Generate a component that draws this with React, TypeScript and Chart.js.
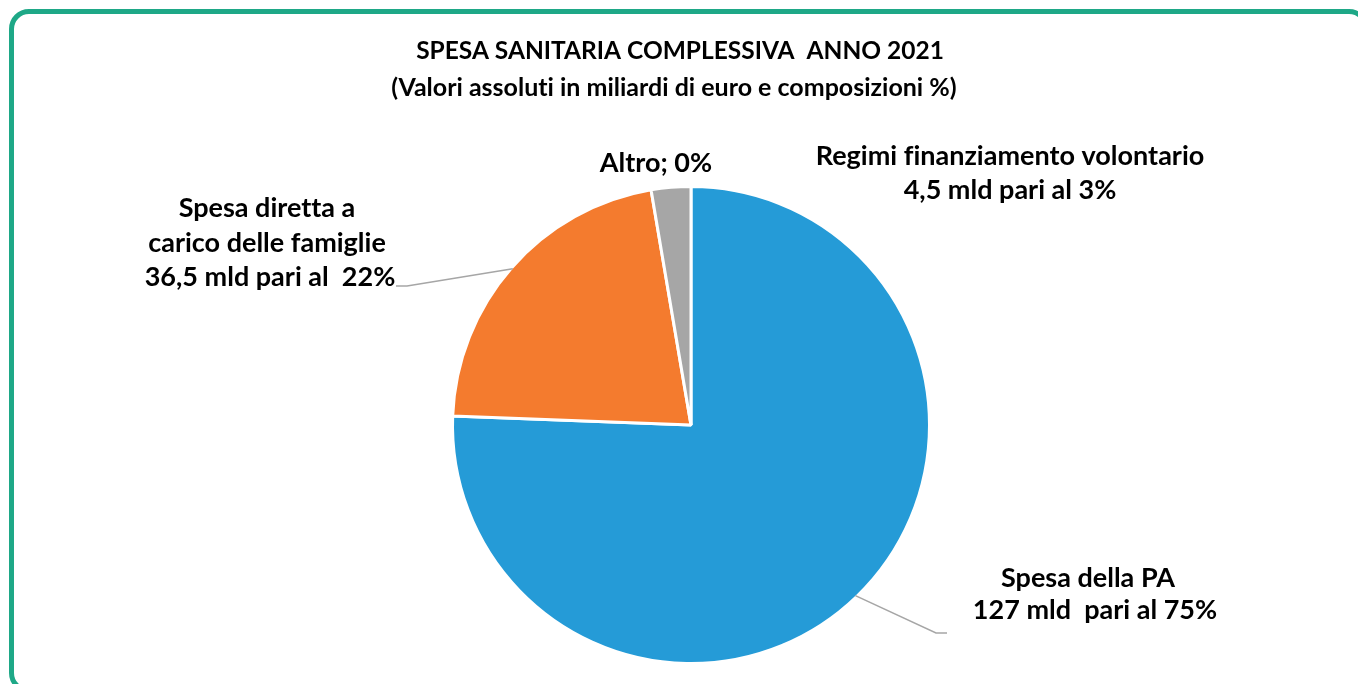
import React, { useEffect, useRef } from "react";
import { Chart, registerables } from "chart.js";

Chart.register(...registerables);

const categories = [
  "Spesa della PA",
  "Spesa diretta a carico delle famiglie",
  "Regimi finanziamento volontario",
  "Altro",
];
const values = [127, 36.5, 4.5, 0];
const colors = ["#259BD7", "#F47B2E", "#A6A6A6", "#FFC000"];
const titleLines = [
  "SPESA SANITARIA COMPLESSIVA  ANNO 2021",
  "(Valori assoluti in miliardi di euro e composizioni %)",
];
const labelLines = [
  ["Spesa della PA", "127 mld  pari al 75%"],
  ["Spesa diretta a", "carico delle famiglie", "36,5 mld pari al  22%"],
  ["Regimi finanziamento volontario", "4,5 mld pari al 3%"],
  ["Altro; 0%"],
];

const FONT = "Lato, 'Open Sans', sans-serif";

// label placement (pixel offsets from the pie centre)
const placements = [
  { xs: [397, 404], ys: [153, 185], leader: { elbow: [245, 208], end: [256, 208] } },
  { xs: [-424, -424, -421], ys: [-217, -182, -148], leader: { elbow: [-284, -139], end: [-295, -139] } },
  { xs: [319, 319], ys: [-269, -235], leader: null },
  { xs: [-35], ys: [-262], leader: null },
];

const labelPlugin = {
  id: "sliceLabels",
  afterDatasetsDraw(chart: any, _args: any, opts: any) {
    const ctx = chart.ctx;
    const meta = chart.getDatasetMeta(0);
    ctx.save();
    try {
      (ctx as any).textRendering = "optimizeSpeed";
    } catch (e) {
      /* ignore */
    }
    meta.data.forEach((arc: any, i: number) => {
      const p = arc.getProps(["x", "y", "startAngle", "endAngle", "outerRadius"], true);
      const pl = opts.placements[i];
      if (!pl) return;
      if (pl.leader) {
        const a = (p.startAngle + p.endAngle) / 2;
        const r = p.outerRadius - 1.5;
        ctx.beginPath();
        ctx.moveTo(p.x + r * Math.cos(a), p.y + r * Math.sin(a));
        ctx.lineTo(p.x + pl.leader.elbow[0], p.y + pl.leader.elbow[1]);
        ctx.lineTo(p.x + pl.leader.end[0], p.y + pl.leader.end[1]);
        ctx.strokeStyle = "#A6A6A6";
        ctx.lineWidth = 1.5;
        ctx.stroke();
      }
      ctx.fillStyle = "#000000";
      ctx.font = `bold ${opts.fontSize}px ${FONT}`;
      ctx.textAlign = "center";
      ctx.textBaseline = "middle";
      opts.lines[i].forEach((t: string, j: number) => {
        ctx.fillText(t, p.x + pl.xs[j], p.y + pl.ys[j]);
      });
    });
    // title
    ctx.fillStyle = "#000000";
    ctx.textAlign = "center";
    ctx.textBaseline = "middle";
    const cx = chart.width / 2;
    ctx.font = `bold ${opts.titleSize}px ${FONT}`;
    ctx.fillText(opts.title[0], cx + 1, 51.5);
    ctx.font = `bold ${opts.titleSize + 0.5}px ${FONT}`;
    ctx.fillText(opts.title[1], cx - 5, 88);
    ctx.restore();
  },
};

export default function App() {
  const ref = useRef<HTMLCanvasElement | null>(null);
  useEffect(() => {
    if (!ref.current) return;
    const chart = new Chart(ref.current, {
      type: "pie",
      data: {
        labels: categories,
        datasets: [
          {
            data: values,
            backgroundColor: colors,
            borderColor: "#FFFFFF",
            borderWidth: 3,
            hoverBorderWidth: 3,
            hoverOffset: 0,
          },
        ],
      },
      options: {
        responsive: false,
        animation: false,
        events: [],
        layout: { padding: { top: 185, bottom: 19, left: 24, right: 0 } },
        plugins: {
          legend: { display: false },
          title: { display: false },
          tooltip: { enabled: false },
          sliceLabels: {
            placements,
            lines: labelLines,
            title: titleLines,
            fontSize: 27,
            titleSize: 24.5,
          },
        } as any,
      },
      plugins: [labelPlugin],
    });
    return () => chart.destroy();
  }, []);

  return (
    <div
      style={{
        position: "fixed",
        left: 0,
        top: 0,
        width: 1358,
        height: 684,
        overflow: "hidden",
        background: "#FFFFFF",
      }}
    >
      <canvas ref={ref} width={1358} height={684} style={{ display: "block" }} />
      <div
        style={{
          position: "absolute",
          left: 9,
          top: 9,
          width: 1360,
          height: 684,
          border: "5px solid #1EA887",
          borderRadius: 20,
          boxSizing: "border-box",
          pointerEvents: "none",
        }}
      />
    </div>
  );
}
